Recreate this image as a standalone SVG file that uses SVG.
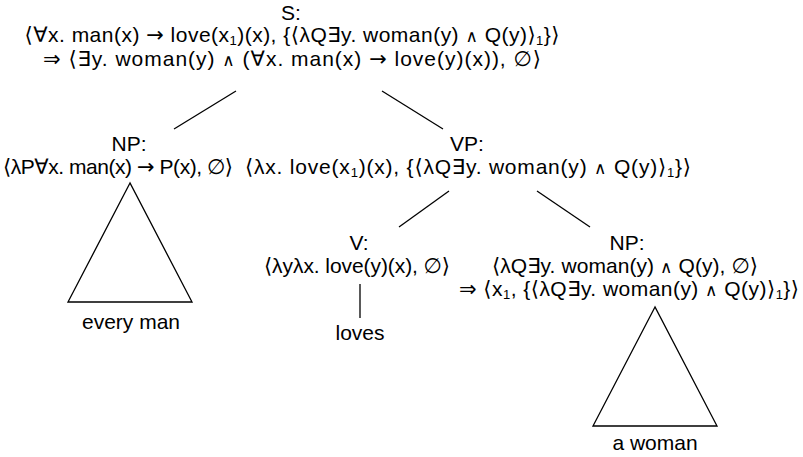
<svg xmlns="http://www.w3.org/2000/svg" width="803" height="457" viewBox="0 0 803 457">
<style>
text{font-family:"Liberation Sans","DejaVu Sans",sans-serif;font-size:21px;fill:#000;text-anchor:middle}
.sub{font-size:13px}
.ar{font-family:"DejaVu Sans",sans-serif;font-size:21px}
.w{font-family:"DejaVu Sans",sans-serif;font-size:17px}
line,polygon{stroke:#000;stroke-width:1.3;fill:none}
</style>
<rect width="803" height="457" fill="#fff"/>
<g id="connectors">
<line x1="236" y1="91" x2="174" y2="129"/>
<line x1="382" y1="91" x2="443" y2="129"/>
<line x1="449" y1="191" x2="399" y2="227"/>
<line x1="537" y1="191" x2="590" y2="227"/>
<line x1="360" y1="284" x2="360" y2="318"/>
</g>
<g id="S">
<text x="291" y="20">S:</text>
<text x="292" y="42" textLength="535" lengthAdjust="spacing">⟨∀x. man(x) <tspan class="ar">→</tspan> love(x<tspan class="sub" dy="3">1</tspan><tspan dy="-3">)(x), {⟨λQ∃y. woman(y) </tspan><tspan class="w">∧</tspan> Q(y)⟩<tspan class="sub" dy="3">1</tspan><tspan dy="-3">}⟩</tspan></text>
<text x="292" y="66" textLength="498" lengthAdjust="spacing"><tspan class="ar">⇒</tspan> ⟨∃y. woman(y) <tspan class="w">∧</tspan> (∀x. man(x) <tspan class="ar">→</tspan> love(y)(x)), ∅⟩</text>
</g>
<g id="NP1">
<text x="129" y="151">NP:</text>
<text x="118" y="174" textLength="230" lengthAdjust="spacing">⟨λP∀x. man(x) <tspan class="ar">→</tspan> P(x), ∅⟩</text>
<polygon points="130,183 68,302 192,302"/>
<text x="131" y="329">every man</text>
</g>
<g id="VP">
<text x="467" y="151">VP:</text>
<text x="468" y="174" textLength="446" lengthAdjust="spacing">⟨λx. love(x<tspan class="sub" dy="3">1</tspan><tspan dy="-3">)(x), {⟨λQ∃y. woman(y) </tspan><tspan class="w">∧</tspan> Q(y)⟩<tspan class="sub" dy="3">1</tspan><tspan dy="-3">}⟩</tspan></text>
</g>
<g id="V">
<text x="359" y="250">V:</text>
<text x="357" y="273" textLength="186" lengthAdjust="spacing">⟨λyλx. love(y)(x), ∅⟩</text>
<text x="360" y="340">loves</text>
</g>
<g id="NP2">
<text x="627" y="250">NP:</text>
<text x="625" y="273" textLength="266" lengthAdjust="spacing">⟨λQ∃y. woman(y) <tspan class="w">∧</tspan> Q(y), ∅⟩</text>
<text x="629" y="296" textLength="340" lengthAdjust="spacing"><tspan class="ar">⇒</tspan> ⟨x<tspan class="sub" dy="3">1</tspan><tspan dy="-3">, {⟨λQ∃y. woman(y) </tspan><tspan class="w">∧</tspan> Q(y)⟩<tspan class="sub" dy="3">1</tspan><tspan dy="-3">}⟩</tspan></text>
<polygon points="655,307 593,426 717,426"/>
<text x="655" y="450">a woman</text>
</g>
</svg>
